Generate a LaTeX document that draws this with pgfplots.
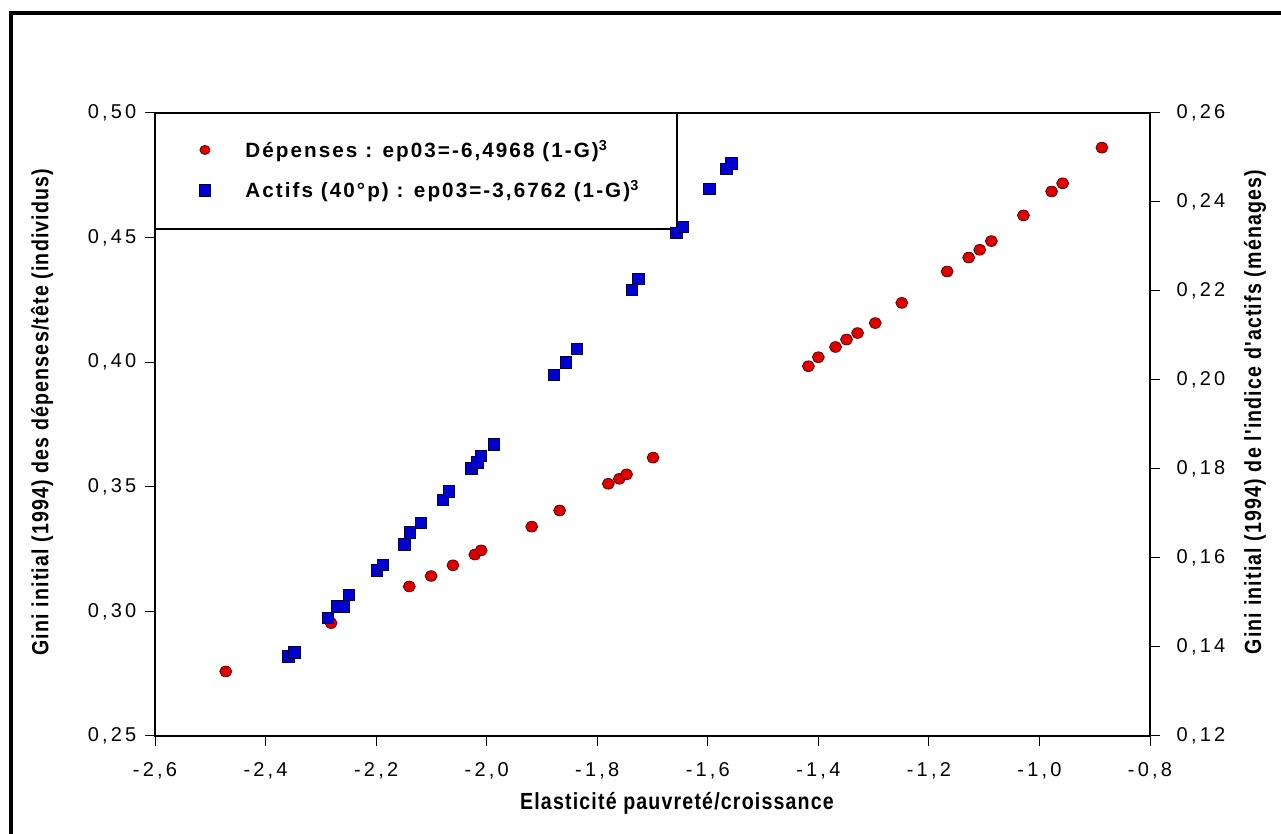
\documentclass[border=0pt]{standalone}
\usepackage{fontspec}
\setmainfont{Liberation Sans}
\newfontfamily\tickfont[LetterSpace=16]{Liberation Sans}
\newfontfamily\labfont[FakeStretch=0.84,LetterSpace=5]{Liberation Sans}
\newfontfamily\legfont[LetterSpace=10]{Liberation Sans}
\usepackage{pgfplots}
\pgfplotsset{compat=1.18}

\definecolor{ptred}{RGB}{225,0,0}
\definecolor{ptredline}{RGB}{90,0,0}
\definecolor{ptblue}{RGB}{0,0,210}
\definecolor{ptblueline}{RGB}{0,0,70}

\pgfplotsset{
  common/.style={
    at={(116.25pt,73.5pt)}, anchor=south west,
    scale only axis, width=746.25pt, height=467.25pt,
    xmin=-2.6, xmax=-0.8,
    tick align=outside, major tick length=7.5pt,
    every tick/.style={black, line width=0.75pt},
    axis line style={line width=0.8pt},
    tick label style={font=\tickfont\fontsize{15}{15}\selectfont},
    /pgf/number format/assume math mode=true,
    /pgf/number format/use comma,
    /pgf/number format/fixed,
    /pgf/number format/fixed zerofill,
    label style={font=\labfont\bfseries\fontsize{17.5}{18}\selectfont},
  },
  redpt/.style={only marks, mark=*, mark size=4pt,
    mark options={xscale=1.12, fill=ptred, draw=ptredline, line width=0.6pt}},
  bluept/.style={only marks, mark=square*, mark size=4.3pt,
    mark options={fill=ptblue, draw=ptblueline, line width=0.6pt}},
}

\begin{document}
\begin{tikzpicture}
\useasboundingbox (0,0) rectangle (960.75pt,625.5pt);
\draw[line width=2.5pt] (8.25pt,0pt) -- (8.25pt,615.75pt) -- (960.75pt,615.75pt);

% axe gauche : dépenses
\begin{axis}[common,
    ymin=0.25, ymax=0.50,
    xtick={-2.6,-2.4,-2.2,-2.0,-1.8,-1.6,-1.4,-1.2,-1.0,-0.8},
    ytick={0.25,0.30,0.35,0.40,0.45,0.50},
    xtick pos=bottom, ytick pos=left,
    xticklabel style={/pgf/number format/precision=1, yshift=-9pt},
    yticklabel style={/pgf/number format/precision=2, xshift=-3pt},
    xlabel={Elasticité pauvreté/croissance},
    xlabel style={at={(axis description cs:0.5246,-0.1075)}, anchor=center},
    ylabel={Gini initial (1994) des dépenses/tête (individus)},
    ylabel style={at={(axis description cs:-0.1136,0.52)}, anchor=center, rotate=0},
]
\addplot[redpt] coordinates {
(-2.472,0.2759) (-2.2815,0.2953) (-2.140,0.3100) (-2.1005,0.3142)
(-2.061,0.3185) (-2.0214,0.3228) (-2.010,0.3245) (-1.9185,0.3340)
(-1.868,0.3405) (-1.780,0.3512) (-1.760,0.3532) (-1.747,0.3550)
(-1.699,0.3617) (-1.418,0.3984) (-1.400,0.4020) (-1.369,0.4061)
(-1.349,0.4091) (-1.329,0.4117) (-1.297,0.4157) (-1.249,0.4238)
(-1.167,0.4364) (-1.128,0.4420) (-1.108,0.4451) (-1.087,0.4486)
(-1.029,0.4589) (-0.978,0.4685) (-0.958,0.4718) (-0.887,0.4861)
};
% cadre de la légende
\draw[fill=white, line width=0.8pt] (rel axis cs:0,1) rectangle (rel axis cs:0.5246,0.8138);
\end{axis}

% axe droit : actifs
\begin{axis}[common,
    ymin=0.12, ymax=0.26,
    axis x line=none, axis y line*=right,
    ytick={0.12,0.14,0.16,0.18,0.20,0.22,0.24,0.26},
    yticklabel style={/pgf/number format/precision=2, xshift=9pt},
    ylabel={Gini initial (1994) de l'indice d'actifs (ménages)},
    ylabel style={at={(axis description cs:1.1055,0.52)}, anchor=center, rotate=0},
    legend cell align=left,
    legend image code/.code={\draw[#1] plot coordinates {(0cm,0cm)};},
    legend style={draw=none, fill=none, at={(axis description cs:0.0415,0.965)},
      anchor=north west, font=\legfont\bfseries\fontsize{15.5}{17}\selectfont,
      row sep=12pt, column sep=24pt, inner sep=2pt},
]
\addlegendimage{redpt, mark size=3.4pt}
\addlegendentry{Dépenses : ep03=-6,4968 (1-G)\textsuperscript{3}}
\addplot[bluept] coordinates {
(-2.359,0.1379) (-2.348,0.1388) (-2.2875,0.1465) (-2.271,0.1491)
(-2.259,0.1491) (-2.249,0.1517) (-2.1985,0.1572) (-2.188,0.1584)
(-2.1485,0.1631) (-2.139,0.1657) (-2.119,0.1679) (-2.0795,0.1730)
(-2.068,0.1750) (-2.028,0.1801) (-2.017,0.1815) (-2.010,0.1830)
(-1.987,0.1855) (-1.878,0.2012) (-1.857,0.2040) (-1.837,0.2070)
(-1.7376,0.2203) (-1.7256,0.2227) (-1.657,0.2330) (-1.645,0.2344)
(-1.597,0.2429) (-1.566,0.2474) (-1.557,0.2487)
};
\addlegendentry{Actifs (40°p) : ep03=-3,6762 (1-G)\textsuperscript{3}}
\end{axis}
\end{tikzpicture}
\end{document}
